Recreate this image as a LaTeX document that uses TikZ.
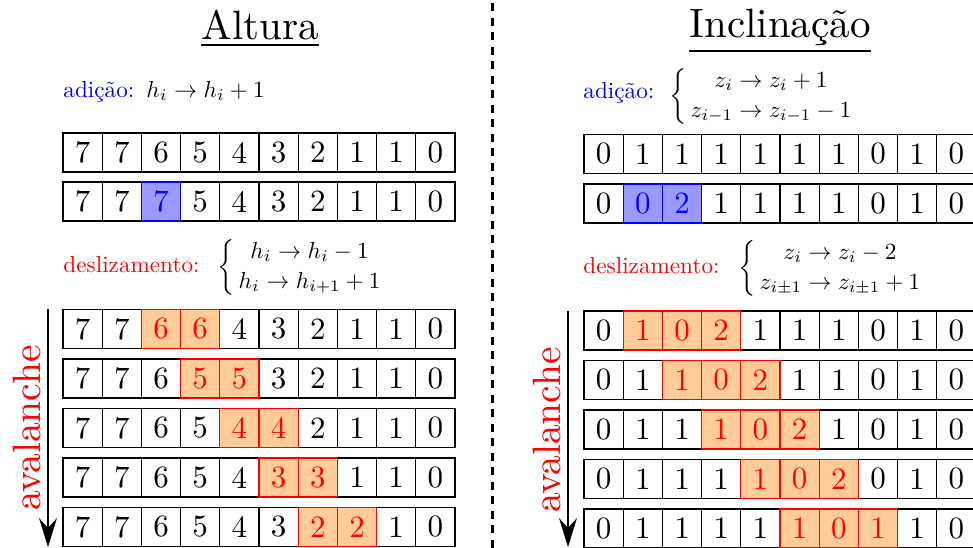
\documentclass[tikz,border=0pt]{standalone}
\usepackage{fontspec}
\usepackage{graphicx}
\usetikzlibrary{arrows.meta}
\definecolor{addfill}{RGB}{153,153,255}
\definecolor{hotfill}{RGB}{255,204,153}
\newcommand\celltxt[1]{\scalebox{3.1}{#1}}
\newcommand\cellrow[7]{%
  \foreach \v [count=\i] in {#4}{%
    \pgfmathtruncatemacro\hl{and(\i>=#5,\i<=#6)}%
    \ifnum\hl=0 \node[plain] (#1-\i) at ({#2+39.2*(\i-0.5)},{#3+19.5}) {\celltxt{\v}};\fi}%
  \foreach \v [count=\i] in {#4}{%
    \pgfmathtruncatemacro\hl{and(\i>=#5,\i<=#6)}%
    \ifnum\hl=1 \node[#7] (#1-\i) at ({#2+39.2*(\i-0.5)},{#3+19.5}) {\celltxt{\v}};\fi}%
}
\begin{document}
\begin{tikzpicture}[x=1pt,y=-1pt,
  plain/.style={draw=black, line width=1.3pt, fill=white, minimum width=39.2pt,
    minimum height=39pt, inner sep=0pt, font=\fontsize{10}{12}\selectfont, text=black},
  addcell/.style={plain, draw=blue, fill=addfill, text=blue},
  hotcell/.style={plain, draw=red, fill=hotfill, text=red},
  lab/.style={inner sep=0pt, anchor=base west, font=\fontsize{10}{13}\selectfont, scale=2.32, transform shape},
  ttl/.style={inner sep=0pt, anchor=base, font=\fontsize{10}{12}\selectfont, scale=4.1, transform shape},
  ava/.style={inner sep=0pt, anchor=base, rotate=90, text=red, font=\fontsize{10}{12}\selectfont, scale=3.95, transform shape},
  avarrow/.style={line width=1.8pt, -{Stealth[length=29pt,width=18pt,inset=10pt]}},
  divider/.style={line width=3.2pt, dash pattern=on 8pt off 6.5pt}]
\useasboundingbox (0,0) rectangle (973,547);
\clip (0,0) rectangle (973,547);

% divider
\coordinate (dtop) at (492.7,3);
\coordinate (dbot) at (492.7,560);
\draw[divider] (dtop) -- (dbot);

% titles
\node[ttl] (tAlt) at (260,39) {\underline{Altura}};
\node[ttl] (tInc) at (780,37) {\underline{Inclinação}};

% left labels
\node[lab, text=blue] (lAdd) at (63,97) {adição:};
\node[lab] (lAddF) at (146,97) {$h_i \rightarrow h_i + 1$};
\node[lab, text=red] (lDes) at (63,272) {deslizamento:};
\node[lab] (lDesF) at (217,273) {$\left\{\begin{array}{@{\,}c@{}} h_i \rightarrow h_i - 1\\ h_i \rightarrow h_{i+1} + 1\end{array}\right.$};

% right labels
\node[lab, text=blue] (rAdd) at (583,98) {adição:};
\node[lab] (rAddF) at (669,102) {$\left\{\begin{array}{@{\,}c@{}} z_i \rightarrow z_i + 1\\ z_{i-1} \rightarrow z_{i-1} - 1\end{array}\right.$};
\node[lab, text=red] (rDes) at (583,273) {deslizamento:};
\node[lab] (rDesF) at (738,274) {$\left\{\begin{array}{@{\,}c@{}} z_i \rightarrow z_i - 2\\ z_{i\pm1} \rightarrow z_{i\pm1} + 1\end{array}\right.$};

% left grids
\cellrow{L0}{63}{133}{7,7,6,5,4,3,2,1,1,0}{0}{-1}{plain}
\cellrow{L1}{63}{182}{7,7,7,5,4,3,2,1,1,0}{3}{3}{addcell}
\cellrow{LA1}{63}{309.5}{7,7,6,6,4,3,2,1,1,0}{3}{4}{hotcell}
\cellrow{LA2}{63}{359}{7,7,6,5,5,3,2,1,1,0}{4}{5}{hotcell}
\cellrow{LA3}{63}{408.5}{7,7,6,5,4,4,2,1,1,0}{5}{6}{hotcell}
\cellrow{LA4}{63}{458}{7,7,6,5,4,3,3,1,1,0}{6}{7}{hotcell}
\cellrow{LA5}{63}{507.5}{7,7,6,5,4,3,2,2,1,0}{7}{8}{hotcell}

% right grids
\cellrow{R0}{584}{134.5}{0,1,1,1,1,1,1,0,1,0}{0}{-1}{plain}
\cellrow{R1}{584}{184}{0,0,2,1,1,1,1,0,1,0}{2}{3}{addcell}
\cellrow{RA1}{584}{311}{0,1,0,2,1,1,1,0,1,0}{2}{4}{hotcell}
\cellrow{RA2}{584}{360.5}{0,1,1,0,2,1,1,0,1,0}{3}{5}{hotcell}
\cellrow{RA3}{584}{410}{0,1,1,1,0,2,1,0,1,0}{4}{6}{hotcell}
\cellrow{RA4}{584}{459.5}{0,1,1,1,1,0,2,0,1,0}{5}{7}{hotcell}
\cellrow{RA5}{584}{509}{0,1,1,1,1,1,0,1,1,0}{6}{8}{hotcell}

% avalanche arrows
\coordinate (laTop) at (48,309);
\coordinate (laBot) at (48,547);
\draw[avarrow] (laTop) -- (laBot);
\node[ava] (laTxt) at (40,428) {avalanche};
\coordinate (raTop) at (568,311);
\coordinate (raBot) at (568,547);
\draw[avarrow] (raTop) -- (raBot);
\node[ava] (raTxt) at (560,430) {avalanche};
\end{tikzpicture}
\end{document}
